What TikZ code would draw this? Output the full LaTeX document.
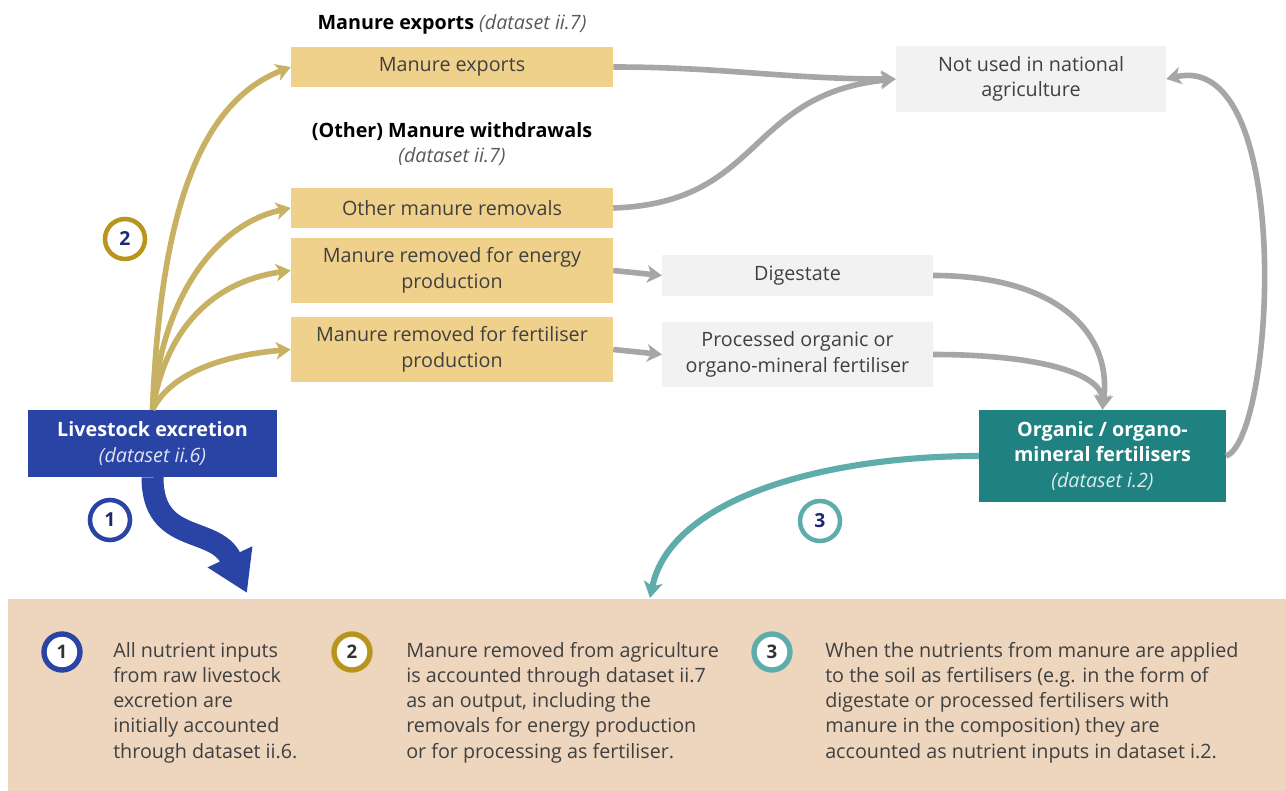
\documentclass[tikz,border=0pt]{standalone}
\usepackage{fontspec}
\setmainfont{Open Sans}
\usetikzlibrary{arrows.meta}
\definecolor{mnrtan}{RGB}{240,209,140}
\definecolor{boxgrey}{RGB}{242,242,242}
\definecolor{lvblue}{RGB}{41,68,165}
\definecolor{orgteal}{RGB}{31,130,128}
\definecolor{arrteal}{RGB}{95,173,171}
\definecolor{arrgold}{RGB}{200,177,98}
\definecolor{ringgold}{RGB}{184,150,30}
\definecolor{arrgrey}{RGB}{166,166,166}
\definecolor{notebg}{RGB}{237,213,190}
\definecolor{txtgrey}{RGB}{64,64,64}
\definecolor{hintgrey}{RGB}{89,89,89}
\definecolor{numnavy}{RGB}{31,42,110}

\begin{document}
\begin{tikzpicture}[x=.75pt,y=-.75pt,
    font=\fontsize{14.8}{19.2}\selectfont,
    mbox/.style={fill=mnrtan,text=txtgrey,minimum width=241.5pt,align=center,inner sep=2pt},
    gbox/.style={fill=boxgrey,text=txtgrey,minimum width=203pt,align=center,inner sep=2pt},
    goldflow/.style={draw=arrgold,line width=4.2pt,-{Stealth[length=11pt,width=13pt,inset=3pt]}},
    greyflow/.style={draw=arrgrey,line width=4.2pt,-{Stealth[length=11pt,width=13pt,inset=3pt]}},
    ring/.style={circle,draw=#1,fill=white,line width=3.4pt,minimum size=30pt,inner sep=0pt,font=\fontsize{14.5}{16}\selectfont\bfseries,text=numnavy},
    notering/.style={circle,draw=#1,fill=white,line width=4pt,minimum size=27pt,inner sep=0pt,font=\fontsize{14}{16}\selectfont\bfseries,text=txtgrey!80!black},
    notetext/.style={anchor=north west,align=left,inner sep=0pt,text=txtgrey,font=\fontsize{14.8}{18.9}\selectfont}]
  \useasboundingbox (0,0) rectangle (1286,791);
  \fill[notebg] (8,599) rectangle (1286,791);
  \coordinate (noteleft) at (650,598);

  \node (hdrexp) at (452,24) {\textbf{Manure exports} {\color{hintgrey}\itshape(dataset ii.7)}};
  \node[align=center] (hdrwd) at (452,144) {\textbf{(Other) Manure withdrawals}\\{\color{hintgrey}\itshape(dataset ii.7)}};

  \node[mbox,minimum height=30pt] (exports) at (452,67) {Manure exports};
  \node[mbox,minimum height=30pt] (others) at (452,208) {Other manure removals};
  \node[mbox,minimum height=48.75pt] (energy) at (452,270.5) {Manure removed for energy\\production};
  \node[mbox,minimum height=48.75pt] (fertprod) at (452,349.5) {Manure removed for fertiliser\\production};

  \node[gbox,minimum width=202.5pt,minimum height=49.5pt] (notused) at (1031,79) {Not used in national\\agriculture};
  \node[gbox,minimum height=30.75pt] (digestate) at (797.5,275.5) {Digestate};
  \node[gbox,minimum height=48.75pt] (processed) at (797.5,354.5) {Processed organic or\\organo-mineral fertiliser};

  \node[fill=lvblue,text=white,minimum width=186.75pt,minimum height=50.25pt,align=center] (livestock) at (152.5,443.5)
    {\textbf{Livestock excretion}\\{\color{white!85!lvblue}\itshape(dataset ii.6)}};
  \node[fill=orgteal,text=white,minimum width=185pt,minimum height=69pt,align=center] (organic) at (1102.5,456)
    {\textbf{Organic / organo-}\\\textbf{mineral fertilisers}\\{\color{white!85!orgteal}\itshape(dataset i.2)}};

  \draw[goldflow] (livestock.north) .. controls +(8,-200) and +(-90,35) .. (exports.west);
  \draw[goldflow] (livestock.north) .. controls +(10,-120) and +(-70,15) .. (others.west);
  \draw[goldflow] (livestock.north) .. controls +(15,-90) and +(-70,10) .. (energy.west);
  \draw[goldflow] (livestock.north) .. controls +(20,-40) and +(-60,5) .. (fertprod.west);

  \draw[greyflow] (exports.east) to[out=0,in=180] (notused.west);
  \draw[greyflow] (others.east) .. controls +(150,-5) and +(-150,15) .. (notused.west);
  \draw[greyflow] (energy.east) -- (digestate.west);
  \draw[greyflow] (fertprod.east) -- (processed.west);
  \draw[greyflow] (digestate.east) .. controls +(120,0) and +(10,-80) .. (organic.north);
  \draw[greyflow] (processed.east) .. controls +(110,0) and +(0,-35) .. (organic.north);
  \draw[greyflow] (organic.east) .. controls +(49,-18) and +(129,-30) .. (notused.east);

  \draw[draw=arrteal,line width=4.6pt,-{Stealth[length=12pt,width=14pt,inset=3pt]}]
    (organic.west) .. controls +(-159,0) and +(20,-98) .. (noteleft);
  \draw[draw=lvblue,line width=16.5pt,-{Triangle[length=30pt,width=35pt]}]
    (livestock.south) .. controls +(0,68) and +(-32,-68) .. (247,593);

  \node[ring=lvblue] (r1) at (110,520) {1};
  \node[ring=ringgold] (r2) at (125,239) {2};
  \node[ring=arrteal] (r3) at (820,521) {3};

  \node[notering=lvblue] (n1) at (62,652) {1};
  \node[notering=ringgold] (n2) at (352,652) {2};
  \node[notering=arrteal] (n3) at (772,652) {3};
  \node[notetext] (t1) at (113,642) {All nutrient inputs\\from raw livestock\\excretion are\\initially accounted\\through dataset ii.6.};
  \node[notetext] (t2) at (406,642) {Manure removed from agriculture\\is accounted through dataset ii.7\\as an output, including the\\removals for energy production\\or for processing as fertiliser.};
  \node[notetext] (t3) at (825,642) {When the nutrients from manure are applied\\to the soil as fertilisers (e.g. in the form of\\digestate or processed fertilisers with\\manure in the composition) they are\\accounted as nutrient inputs in dataset i.2.};
\end{tikzpicture}
\end{document}
